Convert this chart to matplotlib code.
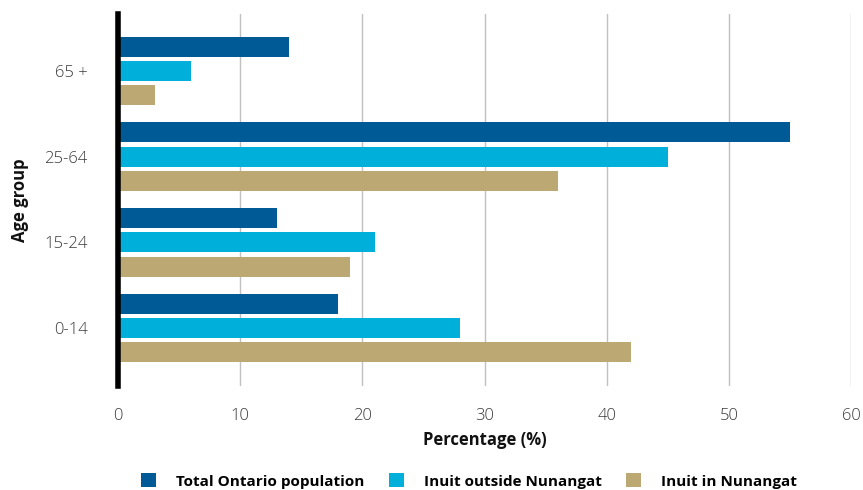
import matplotlib
matplotlib.use("Agg")
import matplotlib.pyplot as plt
from matplotlib.patches import Patch
import numpy as np

plt.rcParams['font.family'] = ['Open Sans', 'DejaVu Sans']

categories = ["0-14", "15-24", "25-64", "65 +"]
series_names = ["Total Ontario population", "Inuit outside Nunangat", "Inuit in Nunangat"]
total_ontario = [18, 13, 55, 14]
inuit_outside = [28, 21, 45, 6]
inuit_in = [42, 19, 36, 3]
colors = ["#005A96", "#00B0DA", "#BBA873"]
x_ticks = [0, 10, 20, 30, 40, 50, 60]

fig = plt.figure(figsize=(8.63, 4.90), dpi=100)
ax = fig.add_axes([118/863, 1-386/490, (851-118)/863, (386-14)/490])

y = np.arange(len(categories))
step = 0.285
h = 0.233
for i, (vals, c) in enumerate(zip([total_ontario, inuit_outside, inuit_in], colors)):
    ax.barh(y + step*(1 - i), vals, height=h, color=c, label=series_names[i], zorder=3)

ax.set_xlim(0, 60)
ax.set_ylim(-0.677, 3.665)
ax.set_xticks(x_ticks)
ax.set_xticklabels([str(t) for t in x_ticks])
ax.set_yticks(y)
ax.set_yticklabels(categories)
ax.tick_params(axis='both', length=0, labelsize=12, labelcolor='#3a3a3a')
ax.tick_params(axis='x', pad=16)
ax.tick_params(axis='y', pad=22)
for lbl in ax.get_yticklabels():
    lbl.set_horizontalalignment('right')
    lbl.set_fontweight('light')
for lbl in ax.get_xticklabels():
    lbl.set_fontweight('light')

ax.grid(axis='x', color='#c0c0c0', linewidth=1, zorder=0)
for s in ['top', 'right', 'bottom']:
    ax.spines[s].set_visible(False)
ax.spines['left'].set_linewidth(4)
ax.spines['left'].set_color('black')
ax.spines['left'].set_zorder(5)

ax.set_xlabel("Percentage (%)", fontsize=12, fontweight='bold', color='#111111')
ax.xaxis.set_label_coords((485-118)/733, -(440-386)/372)
ax.set_ylabel("Age group", fontsize=12, fontweight='bold', color='#111111')
ax.yaxis.set_label_coords((20-118)/733, (386-200)/372)
ax.xaxis.label.set_verticalalignment('center')
ax.yaxis.label.set_verticalalignment('center')

handles = [Patch(facecolor=c, edgecolor='none') for c in colors]
fig.legend(handles, series_names, loc='center', bbox_to_anchor=(469/863, 1-481/490),
           ncol=3, frameon=False, handlelength=1.0, handleheight=1.0,
           handletextpad=1.3, columnspacing=1.6,
           prop={'size': 11, 'weight': 'bold'})

fig.savefig("out.png", dpi=100)
